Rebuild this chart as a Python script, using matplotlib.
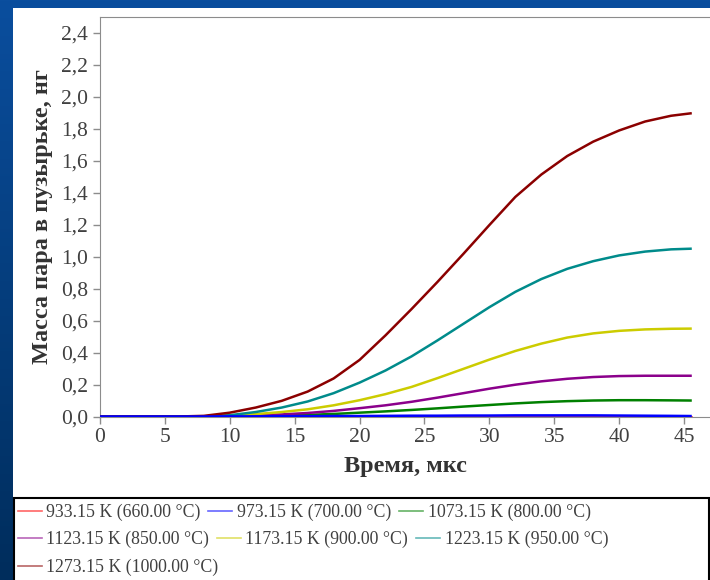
import numpy as np
import matplotlib
matplotlib.use('Agg')
from matplotlib import pyplot as plt
from matplotlib.patches import Rectangle
from matplotlib.ticker import FuncFormatter

# время, мкс
t = [0, 2, 4, 6, 8, 10, 12, 14, 16, 18, 20, 22, 24, 26, 28, 30, 32, 34, 36, 38, 40, 42, 44, 45.5]

# масса пара, нг
m_933 = [0, 0, 0, 0, 0, 0, 0, 0, 0, 0, 0, 0, 0, 0, 0, 0, 0, 0, 0, 0, 0, 0, 0, 0]
m_973 = [0, 0, 0, 0, 0, 0.001, 0.001, 0.002, 0.002, 0.003, 0.003, 0.004, 0.005, 0.005,
         0.006, 0.006, 0.007, 0.007, 0.007, 0.007, 0.006, 0.005, 0.004, 0.003]
m_1073 = [0, 0, 0, 0, 0, 0.001, 0.003, 0.006, 0.010, 0.016, 0.024, 0.032, 0.041, 0.051,
          0.062, 0.072, 0.082, 0.090, 0.096, 0.100, 0.102, 0.102, 0.101, 0.100]
m_1123 = [0, 0, 0, 0, 0.001, 0.003, 0.007, 0.013, 0.022, 0.035, 0.052, 0.070, 0.092, 0.118,
          0.146, 0.174, 0.199, 0.220, 0.236, 0.247, 0.253, 0.255, 0.255, 0.255]
m_1173 = [0, 0, 0, 0, 0.001, 0.006, 0.015, 0.028, 0.045, 0.070, 0.102, 0.140, 0.185, 0.240,
          0.298, 0.356, 0.410, 0.456, 0.494, 0.520, 0.536, 0.545, 0.549, 0.550]
m_1223 = [0, 0, 0, 0, 0.001, 0.008, 0.028, 0.056, 0.094, 0.146, 0.212, 0.288, 0.376, 0.476,
          0.580, 0.684, 0.780, 0.860, 0.924, 0.972, 1.008, 1.032, 1.046, 1.050]
m_1273 = [0, 0, 0, 0, 0.004, 0.024, 0.056, 0.098, 0.156, 0.238, 0.354, 0.508, 0.672, 0.842,
          1.018, 1.198, 1.374, 1.514, 1.630, 1.720, 1.790, 1.846, 1.882, 1.897]

series = [m_933, m_973, m_1073, m_1123, m_1173, m_1223, m_1273]
labels = ['933.15 K (660.00 °C)', '973.15 K (700.00 °C)', '1073.15 K (800.00 °C)',
          '1123.15 K (850.00 °C)', '1173.15 K (900.00 °C)', '1223.15 K (950.00 °C)',
          '1273.15 K (1000.00 °C)']
colors = ['#ff0000', '#0000ff', '#008000', '#8b008b', '#cccc00', '#008b8b', '#8b0000']
zorders = [2, 10, 3, 4, 5, 6, 7]

plt.rcParams['font.family'] = ['Liberation Serif', 'DejaVu Serif']

fig = plt.figure(figsize=(7.1, 5.8), dpi=100)

# фон слайда
bg = fig.add_axes([0, 0, 1, 1], zorder=-10)
grad = np.linspace(0, 1, 256).reshape(-1, 1)
bg.imshow(grad, aspect='auto', extent=[0, 1, 0, 1],
          cmap=matplotlib.colors.LinearSegmentedColormap.from_list('b', ['#0a4e9e', '#002d5c']))
bg.set_axis_off()
fig.patches.append(Rectangle((13 / 710, 0), 1, 572 / 580, transform=fig.transFigure,
                             facecolor='white', edgecolor='none', zorder=-5))
fig.patches.append(Rectangle((14 / 710, -0.01), 695 / 710, 88 / 580, transform=fig.transFigure,
                             facecolor='white', edgecolor='black', lw=1.5, zorder=-4))

ax = fig.add_axes([100 / 710, 163.5 / 580, 610 / 710, 399.5 / 580])
lines = []
for s, lab, c, z in zip(series, labels, colors, zorders):
    ln, = ax.plot(t, s, color=c, lw=1.8, label=lab, zorder=z, solid_joinstyle='round')
    lines.append(ln)

ax.set_xlim(0, 47)
ax.set_ylim(0, 2.5)
ax.set_xticks(np.arange(0, 46, 5))
ax.set_yticks(np.arange(0, 2.41, 0.2))
ax.yaxis.set_major_formatter(FuncFormatter(lambda v, p: ('%.1f' % v).replace('.', ',')))
for sp in ['left', 'bottom', 'top']:
    ax.spines[sp].set_color('#8c8c8c')
ax.spines['right'].set_visible(False)
ax.tick_params(colors='#8c8c8c', labelcolor='#404040', labelsize=15.5, length=5, width=1)
ax.set_xlabel('Время, мкс', fontsize=17.5, fontweight='bold', color='#333333', labelpad=6)
ax.set_ylabel('Масса пара в пузырьке, нг', fontsize=17.5, fontweight='bold', color='#333333',
              labelpad=6)

# легенда построчно
rows = [[0, 1, 2], [3, 4, 5], [6]]
row_y = [500, 527, 555]
for r, y in zip(rows, row_y):
    leg = fig.legend([lines[i] for i in r], [labels[i] for i in r], ncol=len(r),
                     loc='upper left', bbox_to_anchor=(14 / 710, 1 - y / 580),
                     frameon=False, fontsize=12.8, handlelength=1.35, handletextpad=0.25,
                     columnspacing=0.45, borderaxespad=0, borderpad=0.2)
    for tx in leg.get_texts():
        tx.set_color('#404040')
    for h in leg.legend_handles:
        h.set_linewidth(1.2)
        h.set_alpha(0.6)

fig.savefig('out.png', dpi=100)
